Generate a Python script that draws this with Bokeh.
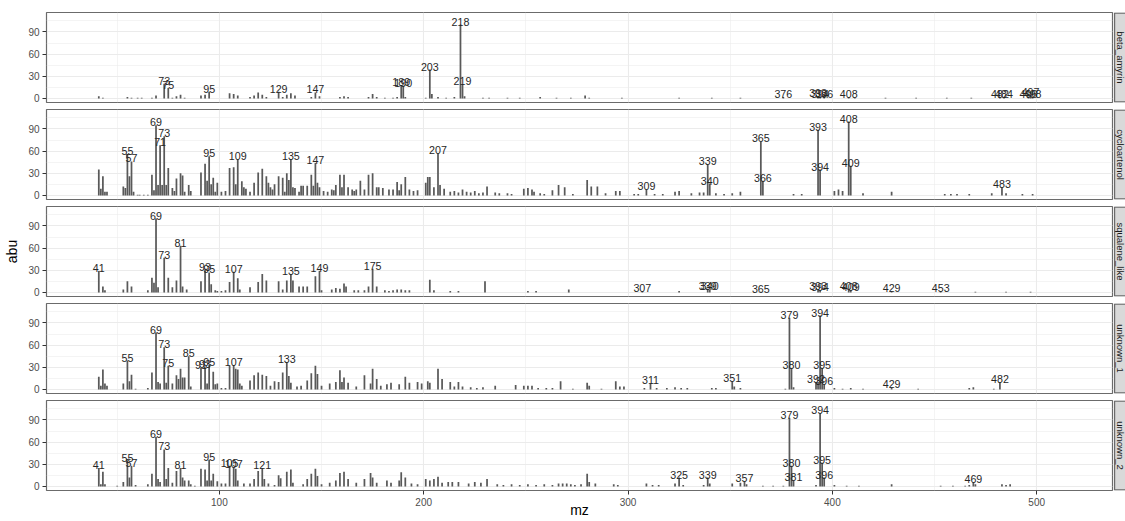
import math
from bokeh.plotting import figure
from bokeh.layouts import column, row
from bokeh.models import FixedTicker, Range1d, ColumnDataSource
from bokeh.core.properties import value
from bokeh.embed import file_html
from bokeh.resources import INLINE

# ---------------- data ----------------
facet_names = ["beta_amyrin", "cycloartenol", "squalene_like", "unknown_1", "unknown_2"]

beta_amyrin_mz = [41, 43, 55, 57, 60, 62, 67, 69, 73, 75, 77, 79, 81, 83, 91, 93, 95, 105, 107, 109,
                  115, 117, 119, 121, 123, 129, 131, 133, 135, 137, 145, 147, 149, 159, 161, 163, 173, 175, 177, 181,
                  185, 187, 189, 190, 191, 201, 203, 204, 207, 211, 215, 218, 219, 220, 229, 232, 241, 247, 257, 265,
                  272, 279, 281, 297, 325, 341, 355, 376, 393, 394, 396, 408, 411, 426, 441, 456, 468, 482, 484, 496,
                  497, 498]
beta_amyrin_abu = [3, 1, 2, 1, 1, 1, 1, 4, 20, 14, 1, 3, 5, 1, 4, 5, 9, 7, 6, 4,
                   2, 4, 8, 5, 2, 9, 2, 5, 7, 4, 2, 8, 3, 2, 3, 2, 2, 6, 2, 1,
                   1, 2, 18, 17, 2, 1, 39, 6, 2, 1, 2, 100, 19, 3, 1, 1, 1, 1, 2, 1,
                   1, 4, 1, 1, 1, 1, 1, 2, 3, 2, 2, 2, 1, 1, 1, 1, 1, 2, 2, 2,
                   4, 2]
beta_amyrin_labels = [73, 75, 95, 129, 147, 189, 190, 203, 218, 219, 376, 393, 394, 396, 408, 482, 484, 496, 497, 498]

cycloartenol_mz = [41, 42, 43, 44, 45, 53, 54, 55, 56, 57, 58, 60, 61, 63, 65, 67, 68, 69, 70, 71,
                   72, 73, 74, 75, 77, 78, 79, 81, 82, 83, 85, 86, 91, 93, 94, 95, 96, 97, 98, 99,
                   101, 103, 105, 107, 108, 109, 111, 112, 113, 115, 117, 119, 121, 123, 124, 125, 126, 127, 129, 131,
                   132, 133, 134, 135, 136, 137, 139, 140, 141, 143, 145, 146, 147, 148, 149, 151, 153, 155, 156, 157,
                   159, 160, 161, 163, 165, 166, 167, 169, 171, 173, 175, 177, 178, 180, 183, 185, 187, 188, 189, 191,
                   193, 195, 197, 201, 202, 203, 205, 207, 208, 210, 213, 215, 217, 219, 221, 223, 225, 227, 229, 231,
                   235, 237, 241, 243, 249, 251, 253, 254, 257, 259, 263, 266, 269, 273, 280, 282, 285, 289, 294, 296,
                   303, 305, 309, 313, 317, 323, 325, 331, 335, 337, 339, 340, 343, 347, 351, 355, 365, 366, 381, 385,
                   393, 394, 401, 403, 405, 408, 409, 415, 429, 455, 458, 461, 467, 478, 483, 485, 493, 498]
cycloartenol_abu = [35, 9, 26, 5, 5, 12, 10, 56, 26, 46, 5, 1, 1, 1, 1, 28, 7, 95, 14, 68,
                    14, 80, 14, 37, 10, 6, 23, 30, 27, 5, 14, 6, 31, 43, 20, 53, 15, 24, 5, 17,
                    5, 6, 37, 38, 15, 49, 19, 11, 9, 5, 17, 31, 36, 26, 17, 11, 8, 15, 26, 24,
                    5, 30, 21, 49, 11, 10, 5, 13, 13, 13, 28, 13, 44, 17, 11, 6, 5, 8, 7, 14,
                    28, 11, 28, 11, 8, 6, 8, 20, 8, 28, 30, 11, 11, 10, 8, 8, 18, 7, 15, 25,
                    8, 6, 7, 17, 25, 25, 11, 57, 14, 9, 5, 6, 4, 8, 5, 4, 6, 3, 4, 12,
                    4, 3, 3, 2, 9, 10, 8, 5, 3, 2, 7, 14, 11, 2, 21, 12, 12, 3, 6, 6,
                    2, 2, 8, 2, 2, 5, 6, 3, 4, 4, 42, 16, 3, 2, 3, 5, 73, 20, 2, 2,
                    89, 35, 6, 8, 6, 100, 40, 3, 5, 2, 2, 2, 2, 3, 11, 3, 2, 2]
cycloartenol_labels = [55, 57, 69, 71, 73, 95, 109, 135, 147, 207, 309, 339, 340, 365, 366, 393, 394, 408, 409, 483]

squalene_like_mz = [41, 43, 44, 53, 55, 57, 65, 67, 68, 69, 70, 73, 75, 77, 79, 81, 82, 84, 91, 93,
                    95, 96, 98, 99, 101, 103, 105, 107, 109, 110, 115, 119, 121, 123, 129, 131, 133, 135, 136, 139,
                    141, 143, 147, 149, 150, 155, 157, 159, 161, 162, 166, 168, 171, 173, 175, 177, 181, 183, 185, 187,
                    189, 191, 193, 203, 205, 213, 217, 230, 251, 255, 271, 307, 325, 339, 340, 365, 393, 394, 408, 409,
                    429, 453, 470, 485, 497]
squalene_like_abu = [29, 8, 3, 4, 15, 8, 3, 20, 13, 100, 7, 47, 20, 7, 16, 63, 8, 4, 15, 31,
                     27, 11, 3, 2, 2, 3, 14, 28, 19, 4, 7, 14, 25, 16, 15, 4, 16, 25, 16, 8,
                     8, 8, 22, 29, 3, 4, 6, 5, 12, 8, 3, 3, 3, 8, 32, 8, 3, 2, 3, 4,
                     4, 3, 3, 17, 3, 2, 2, 15, 2, 2, 4, 2, 2, 5, 4, 1, 4, 3, 4, 3,
                     2, 2, 1, 1, 1]
squalene_like_labels = [41, 69, 73, 81, 93, 95, 107, 135, 149, 175, 307, 339, 340, 365, 393, 394, 408, 409, 429, 453]

unknown_1_mz = [41, 42, 43, 44, 45, 53, 55, 56, 57, 59, 65, 67, 69, 70, 71, 73, 74, 75, 77, 79,
                80, 81, 82, 83, 85, 86, 91, 93, 94, 95, 97, 98, 99, 101, 103, 105, 107, 108, 109, 110,
                111, 115, 117, 119, 121, 123, 125, 127, 129, 131, 133, 134, 135, 138, 140, 143, 145, 147, 148, 150,
                154, 157, 159, 160, 161, 163, 167, 171, 174, 175, 177, 179, 182, 184, 188, 191, 193, 197, 199, 202,
                203, 207, 209, 213, 215, 217, 219, 223, 226, 229, 235, 245, 249, 251, 253, 256, 260, 263, 267, 273,
                280, 281, 287, 294, 296, 298, 308, 311, 314, 319, 323, 326, 329, 341, 343, 351, 352, 355, 377, 379,
                380, 381, 392, 393, 394, 395, 396, 401, 405, 409, 415, 429, 442, 467, 469, 479, 482]
unknown_1_abu = [17, 5, 27, 8, 5, 8, 39, 11, 20, 1, 2, 23, 77, 10, 8, 57, 9, 32, 8, 19,
                 14, 28, 16, 16, 45, 4, 29, 30, 8, 33, 24, 7, 8, 2, 2, 32, 33, 28, 27, 8,
                 5, 12, 19, 23, 20, 18, 5, 11, 10, 23, 37, 18, 9, 4, 5, 12, 22, 32, 21, 5,
                 8, 10, 26, 10, 16, 9, 4, 19, 8, 28, 14, 5, 7, 9, 7, 17, 9, 10, 8, 11,
                 9, 28, 14, 10, 4, 10, 4, 3, 2, 3, 5, 6, 5, 5, 5, 2, 2, 2, 11, 1,
                 9, 5, 1, 11, 4, 4, 2, 8, 2, 2, 3, 2, 2, 2, 2, 11, 4, 2, 1, 97,
                 29, 3, 10, 10, 100, 29, 7, 2, 1, 2, 1, 3, 1, 2, 3, 1, 10]
unknown_1_labels = [55, 69, 73, 75, 85, 91, 93, 95, 107, 133, 311, 351, 379, 380, 392, 394, 395, 396, 429, 482]

unknown_2_mz = [41, 42, 43, 44, 50, 53, 55, 56, 57, 59, 65, 67, 69, 70, 71, 73, 74, 75, 77, 79,
                81, 82, 83, 85, 86, 88, 91, 93, 94, 95, 96, 97, 99, 101, 103, 105, 107, 108, 109, 112,
                115, 117, 119, 121, 122, 124, 127, 129, 130, 133, 135, 136, 141, 143, 145, 147, 148, 150, 154, 157,
                159, 161, 163, 167, 171, 174, 175, 177, 182, 184, 188, 189, 191, 194, 197, 201, 203, 205, 207, 209,
                212, 214, 217, 222, 225, 228, 231, 236, 239, 243, 247, 251, 255, 259, 263, 266, 268, 270, 272, 274,
                277, 280, 281, 284, 293, 295, 309, 312, 315, 323, 325, 327, 337, 339, 340, 351, 355, 357, 358, 366,
                371, 376, 379, 380, 381, 392, 394, 395, 396, 401, 407, 413, 429, 453, 459, 465, 467, 469, 470, 483,
                485, 487]
unknown_2_abu = [25, 3, 20, 3, 1, 6, 35, 12, 28, 2, 3, 17, 67, 10, 6, 50, 10, 25, 5, 21,
                 25, 12, 8, 8, 3, 1, 24, 23, 8, 36, 8, 17, 7, 4, 4, 28, 26, 24, 8, 4,
                 4, 10, 21, 25, 10, 4, 2, 15, 11, 20, 23, 5, 3, 10, 17, 24, 14, 3, 5, 8,
                 18, 20, 10, 5, 10, 18, 12, 5, 8, 5, 8, 19, 12, 4, 3, 10, 8, 10, 13, 5,
                 6, 6, 6, 4, 6, 5, 10, 3, 2, 3, 2, 3, 2, 3, 2, 4, 4, 4, 3, 2,
                 3, 17, 6, 4, 3, 2, 4, 2, 2, 4, 12, 2, 2, 12, 4, 4, 5, 7, 3, 1,
                 1, 1, 93, 28, 8, 2, 99, 32, 12, 2, 1, 1, 3, 1, 1, 1, 2, 6, 3, 3,
                 2, 3]
unknown_2_labels = [41, 55, 57, 69, 73, 81, 95, 105, 107, 121, 325, 339, 357, 379, 380, 381, 394, 395, 396, 469]

x_ticks = [100, 200, 300, 400, 500]
x_minor = [50, 150, 250, 350, 450]
y_ticks = [0, 30, 60, 90]
y_minor = [15, 45, 75, 105]

# ---------------- styling ----------------
FONT = "Liberation Sans"
X_RANGE = (15.4, 537.1)
Y_RANGE = (-5.54, 116.3)
FRAME_H = 90
LEFT = 46
PANEL_W = 1113
STRIP_W = 12
BORDER_COL = "#6b6b6b"
BAR_COL = "#595959"

panels = [
    (facet_names[0], beta_amyrin_mz, beta_amyrin_abu, beta_amyrin_labels),
    (facet_names[1], cycloartenol_mz, cycloartenol_abu, cycloartenol_labels),
    (facet_names[2], squalene_like_mz, squalene_like_abu, squalene_like_labels),
    (facet_names[3], unknown_1_mz, unknown_1_abu, unknown_1_labels),
    (facet_names[4], unknown_2_mz, unknown_2_abu, unknown_2_labels),
]

rows = []
n = len(panels)
for i, (name, mz, abu, labs) in enumerate(panels):
    first = i == 0
    last = i == n - 1
    bt = 12 if first else 1
    bb = 31 if last else 6
    h = FRAME_H + bt + bb

    p = figure(width=PANEL_W, height=h,
               x_range=Range1d(*X_RANGE), y_range=Range1d(*Y_RANGE),
               output_backend="svg", toolbar_location=None,
               x_axis_location="below" if last else None,
               min_border_left=LEFT, min_border_right=1,
               min_border_top=bt, min_border_bottom=bb)
    p.background_fill_color = "white"
    p.border_fill_color = "white"
    p.outline_line_color = BORDER_COL
    p.outline_line_width = 1.2

    # grids
    p.xgrid.ticker = FixedTicker(ticks=x_ticks, minor_ticks=x_minor)
    p.ygrid.ticker = FixedTicker(ticks=y_ticks, minor_ticks=y_minor)
    for g in (p.xgrid, p.ygrid):
        g.grid_line_color = "#EBEBEB"
        g.grid_line_width = 1.1
        g.minor_grid_line_color = "#EBEBEB"
        g.minor_grid_line_width = 0.55

    # y axis
    ya = p.yaxis[0]
    ya.ticker = FixedTicker(ticks=y_ticks, minor_ticks=y_minor)
    ya.axis_line_color = None
    ya.major_tick_line_color = "#333333"
    ya.major_tick_out = 4
    ya.major_tick_in = 0
    ya.minor_tick_line_color = None
    ya.major_label_text_font = FONT
    ya.major_label_text_font_size = "10px"
    ya.major_label_text_color = "#4D4D4D"
    ya.major_label_standoff = 3
    if i == 2:
        ya.axis_label = "abu"
        ya.axis_label_text_font = FONT
        ya.axis_label_text_font_size = "14px"
        ya.axis_label_text_font_style = "normal"
        ya.axis_label_text_color = "black"
        ya.axis_label_standoff = 5

    if last:
        xa = p.xaxis[0]
        xa.ticker = FixedTicker(ticks=x_ticks, minor_ticks=x_minor)
        xa.axis_line_color = None
        xa.major_tick_line_color = "#333333"
        xa.major_tick_out = 4
        xa.major_tick_in = 0
        xa.minor_tick_line_color = None
        xa.major_label_text_font = FONT
        xa.major_label_text_font_size = "10px"
        xa.major_label_text_color = "#4D4D4D"
        xa.major_label_standoff = 3
        xa.axis_label = "mz"
        xa.axis_label_text_font = FONT
        xa.axis_label_text_font_size = "14px"
        xa.axis_label_text_font_style = "normal"
        xa.axis_label_text_color = "black"
        xa.axis_label_standoff = -7

    src = ColumnDataSource(dict(mz=mz, abu=abu))
    p.vbar(x="mz", top="abu", bottom=0, width=0.85, source=src,
           fill_color=BAR_COL, line_color=None)

    lookup = dict(zip(mz, abu))
    lab_src = ColumnDataSource(dict(x=labs, y=[lookup[m] for m in labs],
                                    t=[str(m) for m in labs]))
    p.text(x="x", y="y", text="t", source=lab_src,
           text_align="center", text_baseline="alphabetic", y_offset=-3,
           text_font=value(FONT), text_font_size="10.7px", text_color="#262626")

    # facet strip
    s = figure(width=STRIP_W, height=h,
               x_range=Range1d(0, STRIP_W), y_range=Range1d(0, FRAME_H),
               output_backend="svg", toolbar_location=None,
               x_axis_location=None, y_axis_location=None,
               min_border_left=0, min_border_right=0,
               min_border_top=bt, min_border_bottom=bb)
    s.grid.visible = False
    s.outline_line_color = None
    s.background_fill_color = "#D9D9D9"
    s.border_fill_color = "white"
    s.quad(left=[1.1], right=[60], bottom=[0.6], top=[FRAME_H - 0.6],
           fill_color=None, line_color=BORDER_COL, line_width=1.2)
    s.text(x=[6.8], y=[FRAME_H / 2], text=[name], angle=-math.pi / 2,
           text_align="center", text_baseline="middle",
           text_font=value(FONT), text_font_size="9.5px", text_color="#1A1A1A")

    rows.append(row(p, s))

layout = column(*rows)
open("out.html", "w").write(file_html(layout, INLINE))
